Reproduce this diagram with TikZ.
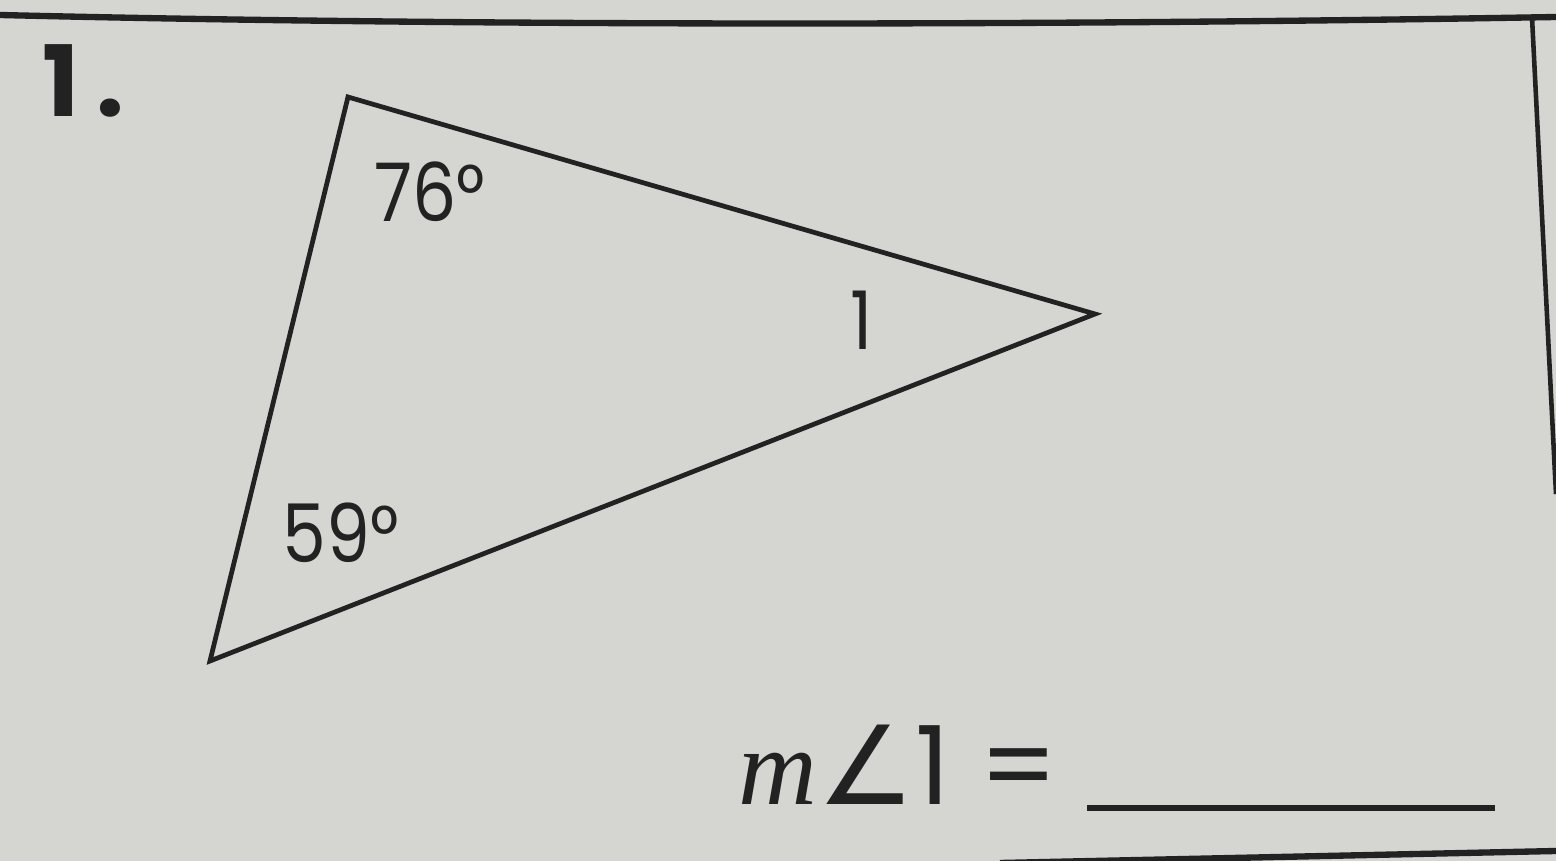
\documentclass[tikz,border=0pt]{standalone}
\usepackage{fontspec}
\setmainfont{Poppins}
\newfontfamily\lblfont[FakeStretch=0.86]{Poppins}
\newfontfamily\serifit{Liberation Serif}
\newfontfamily\symfam{DejaVu Sans}
\definecolor{paper}{RGB}{213,213,210}
\definecolor{ink}{RGB}{34,34,34}
\begin{document}
\begin{tikzpicture}[x=0.01cm,y=-0.01cm,
    lbl/.style={anchor=base west,inner sep=0pt,text=ink,font=\lblfont\fontsize{23}{23}\selectfont},
    rule/.style={draw=ink,line width=1.8pt}]
  \fill[paper] (0,0) rectangle (1556,861);
  \useasboundingbox (0,0) rectangle (1556,861);
  % page rules
  \draw[rule] (0,15) .. controls (500,27) and (1100,25) .. (1556,17);
  \draw[rule,line width=1.3pt] (1532,17) -- (1556,494);
  \draw[rule] (1000,863) -- (1556,851);
  \path (42,117) node[lbl,font=\bfseries\fontsize{28}{28}\selectfont] (N) {1\,.};
  % triangle
  \path (348,97) coordinate (A) (1095,314) coordinate (B) (210,661) coordinate (C);
  \draw[ink,line width=1.35pt,line join=miter] (A) -- (B) -- (C) -- cycle;
  \path (374,222) node[lbl] (TA) {76°};
  \path (282,563) node[lbl] (TC) {59°};
  \path (850,350) node[lbl] (TB) {1};
  % answer line
  \path (738,805) node[lbl,font=\fontsize{31}{31}\selectfont] (Q) {{\serifit\itshape m}{\symfam ∠}1 =};
  \path (1087,808) coordinate (L1) (1495,808) coordinate (L2);
  \draw[rule,line width=1.5pt] (L1) -- (L2);
\end{tikzpicture}
\end{document}
